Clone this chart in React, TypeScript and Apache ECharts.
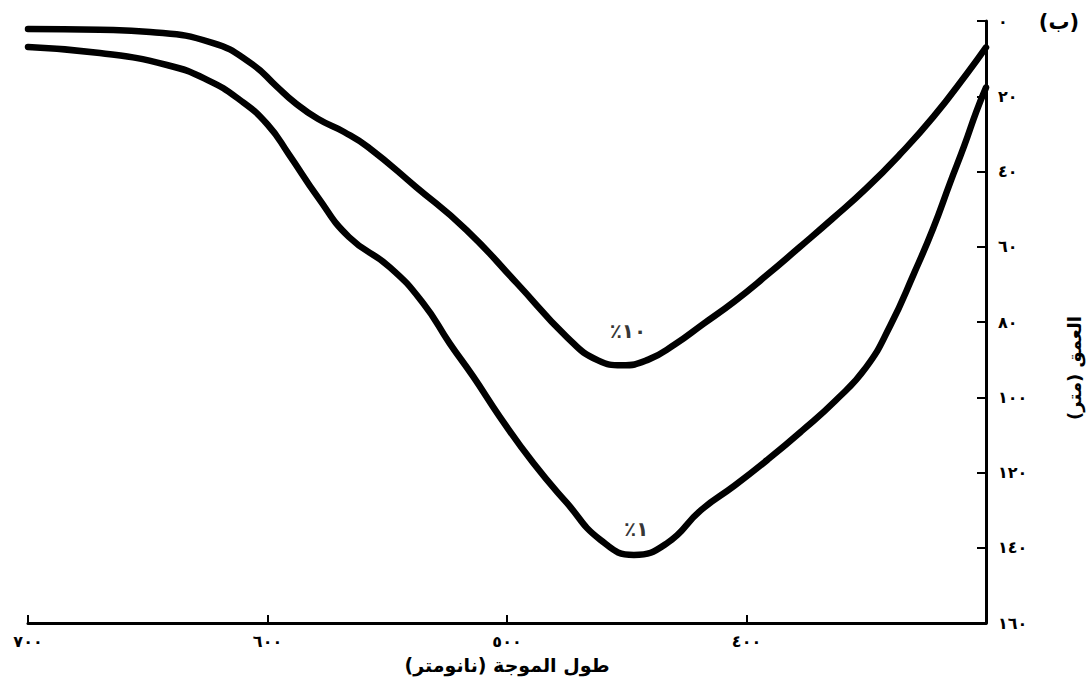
import React, { useEffect, useRef } from "react";
import * as echarts from "echarts";

// Wavelength (nm) and depth (m) for the 10% light curve
const wavelength10 = [700, 670, 649, 623, 607, 596, 589, 579, 568, 558, 538, 517, 496, 475, 462, 452, 441, 430, 418, 405, 392, 378, 364, 350, 336, 322, 308, 300];
const depth10 = [2.1, 2.3, 2.9, 5.8, 11.2, 17.5, 21.5, 26.0, 29.5, 33.5, 44.1, 55.5, 69.6, 84, 90.2, 91.5, 90.0, 86.0, 80.5, 74.5, 67.8, 60.2, 52.5, 44.5, 35.5, 25.5, 14.0, 7];

// Wavelength (nm) and depth (m) for the 1% light curve
const wavelength1 = [700, 670, 642, 625, 611.5, 600, 591, 579, 566, 549, 535, 524, 514, 503, 489, 475, 461, 447, 433, 419, 405, 391, 377, 363, 350, 340, 330, 322, 315, 309, 304, 300];
const depth1 = [6.9, 8.5, 11.7, 15.7, 21, 27.5, 35.5, 46.8, 57.4, 65.4, 75, 85.6, 94.6, 105.2, 117.5, 128.1, 137.9, 141.9, 138.7, 130, 123.5, 116.5, 109, 101, 92, 81, 67, 55, 43, 33, 24, 17.7];

// Tick labels (Eastern Arabic numerals)
const xTickValues = [700, 600, 500, 400, 300];
const xTickLabels = ["٧٠٠", "٦٠٠", "٥٠٠", "٤٠٠", ""];
const yTickValues = [0, 20, 40, 60, 80, 100, 120, 140, 160];
const yTickLabels = ["٠", "٢٠", "٤٠", "٦٠", "٨٠", "١٠٠", "١٢٠", "١٤٠", "١٦٠"];

// Curve annotations: [wavelength, depth]
const curveLabels = ["٪١٠", "٪١"];
const labelWavelengths = [449.5, 446];
const labelDepths = [82.5, 135];

const xName = "طول الموجة (نانومتر)";
const yName = "العمق (متر)";
const panelLabel = "(ب)";

const FONT = "DejaVu Sans";

export default function App() {
  const ref = useRef<HTMLDivElement>(null);

  useEffect(() => {
    if (!ref.current) return;
    const chart = echarts.init(ref.current, null, { renderer: "svg" });

    const pairs = (xs: number[], ys: number[]) => xs.map((x, i) => [x, ys[i]]);

    const lineStyle = { color: "#000", width: 6.5, cap: "round" as const, join: "round" as const };

    chart.setOption({
      animation: false,
      backgroundColor: "#fff",
      grid: { left: 28, right: 105, top: 21, bottom: 64, containLabel: false },
      xAxis: {
        type: "value",
        position: "bottom",
        inverse: true,
        min: 300,
        max: 700,
        interval: 100,
        axisLine: { show: true, onZero: false, lineStyle: { color: "#000", width: 3 } },
        axisTick: { show: true, inside: true, length: 8, lineStyle: { color: "#000", width: 2 } },
        axisLabel: {
          fontFamily: FONT,
          fontWeight: "bold",
          fontSize: 16,
          color: "#000",
          margin: 10,
          formatter: (v: number) => {
            const i = xTickValues.indexOf(v);
            return i >= 0 ? xTickLabels[i] : "";
          },
        },
        splitLine: { show: false },
      },
      yAxis: {
        type: "value",
        position: "right",
        inverse: true,
        min: 0,
        max: 160,
        interval: 20,
        axisLine: { show: true, onZero: false, lineStyle: { color: "#000", width: 3 } },
        axisTick: { show: true, inside: true, length: 9, lineStyle: { color: "#000", width: 2 } },
        axisLabel: {
          fontFamily: FONT,
          fontWeight: "bold",
          fontSize: 16,
          color: "#000",
          margin: 12,
          formatter: (v: number) => {
            const i = yTickValues.indexOf(v);
            return i >= 0 ? yTickLabels[i] : "";
          },
        },
        splitLine: { show: false },
      },
      graphic: [
        {
          type: "text",
          x: 1059,
          y: 22,
          style: {
            text: panelLabel,
            fontFamily: FONT,
            fontWeight: "bold",
            fontSize: 21,
            fill: "#000",
            align: "center",
            verticalAlign: "middle",
          },
        },
        {
          type: "text",
          x: 1074,
          y: 368,
          rotation: Math.PI / 2,
          style: {
            text: yName,
            fontFamily: FONT,
            fontWeight: "bold",
            fontSize: 18,
            fill: "#000",
            align: "center",
            verticalAlign: "middle",
          },
        },
        {
          type: "text",
          x: 507,
          y: 665,
          style: {
            text: xName,
            fontFamily: FONT,
            fontWeight: "bold",
            fontSize: 19,
            fill: "#000",
            align: "center",
            verticalAlign: "middle",
          },
        },
      ],
      series: [
        {
          type: "line",
          data: pairs(wavelength10, depth10),
          smooth: 0.5,
          showSymbol: false,
          lineStyle,
        },
        {
          type: "line",
          data: pairs(wavelength1, depth1),
          smooth: 0.5,
          showSymbol: false,
          lineStyle,
        },
        {
          type: "scatter",
          data: labelWavelengths.map((w, i) => ({ value: [w, labelDepths[i]], name: curveLabels[i] })),
          symbolSize: 2,
          itemStyle: { color: "rgba(0,0,0,0)" },
          silent: true,
          label: {
            show: true,
            position: "inside",
            formatter: (p: any) => p.name,
            fontFamily: FONT,
            fontWeight: "bold",
            fontSize: 20,
            color: "#000",
          },
        },
      ],
    });

    return () => chart.dispose();
  }, []);

  return (
    <div
      ref={ref}
      style={{ position: "fixed", left: 0, top: 0, width: 1091, height: 687, background: "#fff" }}
    />
  );
}
